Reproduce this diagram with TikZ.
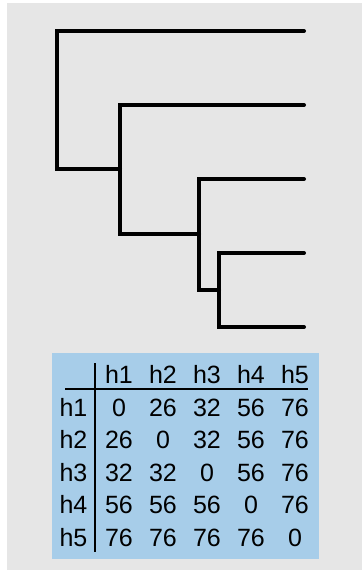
\documentclass[tikz,border=0pt]{standalone}
\usepackage{fontspec}
\setmainfont{Liberation Sans}
\usetikzlibrary{positioning}
\definecolor{panelgray}{HTML}{E6E6E6}
\definecolor{tableblue}{HTML}{A7CDE9}

\begin{document}
\begin{tikzpicture}[x=1pt,y=-1pt,
  branch/.style={line width=4pt, line cap=round},
  rule/.style={line width=2pt},
  cell/.style={font=\fontsize{25}{28}\selectfont, inner sep=0pt, anchor=base}]
\useasboundingbox (0,0) rectangle (362,573);
\fill[panelgray] (7,3) rectangle (362,570);

% leaves and joins of the tree
\coordinate (L1) at (304,31);
\coordinate (L2) at (304,105);
\coordinate (L3) at (304,179);
\coordinate (L4) at (304,253);
\coordinate (L5) at (304,327);
\coordinate (n1) at (57,100);
\coordinate (n2) at (120,169);
\coordinate (n3) at (199,234);
\coordinate (n4) at (219,290);

\draw[branch] (L1) -| (n1 |- n2) -- (n2);
\draw[branch] (L2) -| (n2 |- n3) -- (n3);
\draw[branch] (L3) -| (n3 |- n4) -- (n4);
\draw[branch] (L4) -| (n4 |- L5) -- (L5);

% distance table
\fill[tableblue] (52,353) rectangle (319,559);
\foreach \j in {1,...,5}{
  \pgfmathsetmacro\cx{119+44*(\j-1)}
  \pgfmathsetmacro\ry{416+32.5*(\j-1)}
  \node[cell] (hd\j) at (\cx,383) {h\j};
  \node[cell] (rl\j) at (73.5,\ry) {h\j};
}
\foreach \row [count=\i] in {{0,26,32,56,76},{26,0,32,56,76},{32,32,0,56,76},{56,56,56,0,76},{76,76,76,76,0}}{
  \foreach \v [count=\j] in \row
    \node[cell] (c\i\j) at (hd\j.base |- rl\i.base) {\v};
}
\coordinate (hl) at (65,389);
\coordinate (hr) at (308,389);
\coordinate (vt) at (95,363);
\coordinate (vb) at (95,552);
\draw[rule] (hl) -- (hr);
\draw[rule] (vt) -- (vb);
\end{tikzpicture}
\end{document}
